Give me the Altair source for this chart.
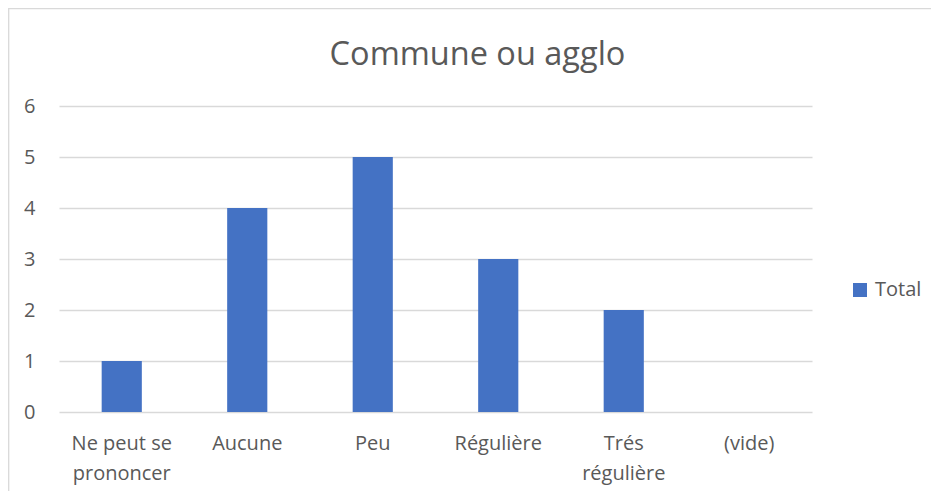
import altair as alt
import pandas as pd

categories = ["Ne peut se prononcer", "Aucune", "Peu", "Régulière", "Trés régulière", "(vide)"]
values = [1, 4, 5, 3, 2, None]
series = ["Total"] * len(categories)

df = pd.DataFrame({"cat": categories, "val": values, "series": series})

FONT = "Open Sans"
TXT = "#595959"
GRID = "#d9d9d9"

label_expr = (
    "datum.label == 'Ne peut se prononcer' ? ['Ne peut se', 'prononcer'] : "
    "datum.label == 'Trés régulière' ? ['Trés', 'régulière'] : datum.label"
)

bars = alt.Chart(df).mark_bar(color="#4472c4").encode(
    x=alt.X("cat:N", sort=categories, title=None,
            scale=alt.Scale(paddingInner=0.68, paddingOuter=0.34),
            axis=alt.Axis(labelAngle=0, labelExpr=label_expr, labelFont=FONT,
                          labelFontSize=20, labelColor=TXT, labelLineHeight=30,
                          labelPadding=21, domain=False, ticks=False, grid=False,
                          labelLimit=200)),
    y=alt.Y("val:Q", title=None,
            scale=alt.Scale(domain=[0, 6], nice=False),
            axis=alt.Axis(values=[0, 1, 2, 3, 4, 5, 6], labelFont=FONT, labelFontSize=20,
                          labelColor=TXT, labelPadding=24, domain=False, ticks=False,
                          gridColor=GRID, gridWidth=1.3)),
    color=alt.Color("series:N", scale=alt.Scale(range=["#4472c4"]), title=None,
                    legend=alt.Legend(orient="none", legendX=791, legendY=174,
                                      symbolType="square", symbolSize=196,
                                      symbolStrokeWidth=0, symbolOpacity=1,
                                      labelFont=FONT, labelFontSize=20,
                                      labelColor=TXT, labelOffset=5)),
)

frame = alt.Chart(pd.DataFrame({"f": [0]})).mark_rect(
    fill=None, stroke=GRID, strokeWidth=1.3
).encode(
    x=alt.value(-50.3), x2=alt.value(1000),
    y=alt.value(-97.3), y2=alt.value(600),
)

chart = alt.layer(bars, frame).properties(
    width=753, height=306,
    title=alt.TitleParams("Commune ou agglo", font=FONT, fontSize=32.5,
                          fontWeight="normal", color=TXT, anchor="middle",
                          dx=42, offset=-63),
    autosize=alt.AutoSizeParams(type="none"),
    padding={"left": 51, "top": 98, "right": 119, "bottom": 79},
).configure_view(stroke=None)

chart.save("out.html", embed_options={"renderer": "svg", "actions": False})
